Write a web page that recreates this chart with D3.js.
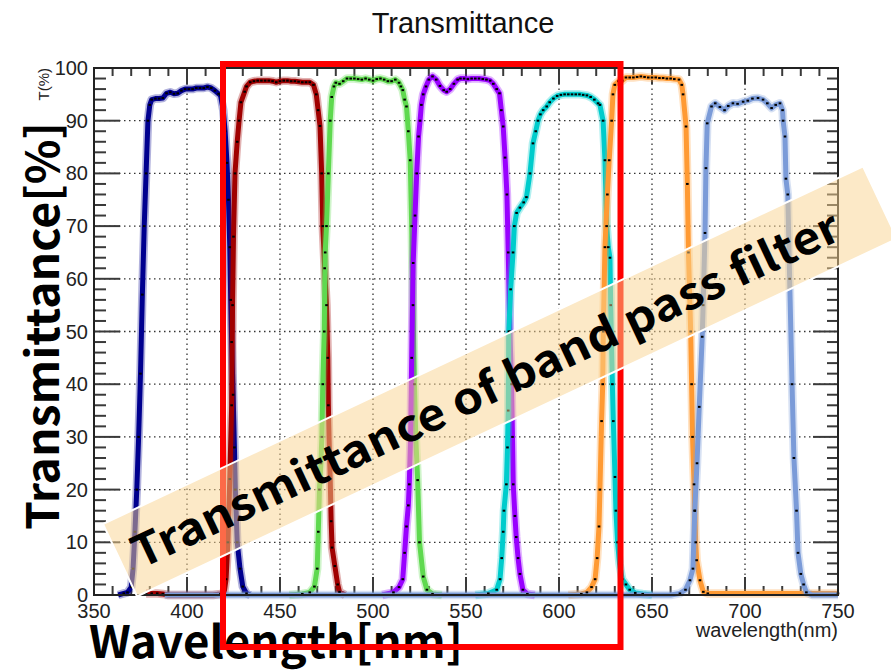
<!DOCTYPE html>
<html>
<head>
<meta charset="utf-8">
<script src="https://cdn.jsdelivr.net/npm/d3@7"></script>
<style>
  body { margin: 0; background: #fff; }
  svg { display: block; }
</style>
</head>
<body>
<script>
// wavelength [nm], transmittance [%]
const filterNavy = [[363,0],[366,0.3],[368,0.5],[370,1.5],[371,5],[372,12],[373,20],[374,30],[375,42],[376,57],[377,70],[378,80],[379,90],[380,93],[381,94],[383,94.2],[385,94.2],[387,94.3],[389,95.2],[391,95.4],[393,95.1],[395,95.2],[397,95.7],[399,96],[401,96],[403,96],[405,96.2],[407,96.2],[409,96.2],[411,96.4],[413,96.2],[415,95.7],[417,95.1],[418,94.8],[419.5,92],[420.5,88],[421.5,82],[422.3,75],[423,66],[423.5,56],[424,48],[424.8,38],[425.5,28],[426,20],[427,10],[428.5,5],[430,1.6],[432,0.3],[434,0]];
const filterDarkRed = [[378,0.3],[381,0.3],[384,0.3],[387,0.2],[390,0],[414,0],[418,0.2],[420,0.5],[421,3],[422,10],[423,22],[424,36],[424.5,55],[425,68],[425.8,80],[427,86],[428,90],[429,93.5],[431,95.5],[432,96.5],[434,97.3],[436,97.5],[438,97.6],[440,97.6],[442,97.6],[444,97.6],[446,97.5],[448,97.3],[450,97.5],[452,97.6],[454,97.6],[456,97.5],[458,97.5],[460,97.4],[462,97.3],[464,97.3],[466,97.3],[468,96.8],[469.5,95],[470.5,92],[471.5,89],[472.4,80],[473,70],[474,62],[475,55],[475.7,45],[476,36],[476.5,28],[477,22],[477.5,14],[478,9],[479.5,5.5],[481,2],[482,0.6],[485,0]];
const filterGreen = [[455,0],[462,0.2],[466,0.5],[468.5,1.6],[470,5],[470.6,12],[471.2,20],[472,25],[472.5,30],[473,40],[473.8,50],[474.3,65],[475,70],[476,80],[477,90],[477.8,94.5],[479,96.5],[480,97.2],[482,97],[484,97.5],[486,98],[488,98],[490,98],[492,97.9],[494,97.8],[496,98],[498,97.8],[500,97.6],[502,97.9],[504,98],[506,97.8],[508,97.5],[510,97.5],[512,97.8],[514,97.2],[515,96.5],[516,95.8],[517,94],[518,92.7],[519,88],[520,82.5],[520.8,70],[521.5,55],[522.3,40],[523,30],[524,21.8],[525,10],[527,3.5],[529,1],[532,0.2],[537,0]];
const filterPurple = [[505,0],[511,0.5],[514,1.5],[516,3],[517,8],[518,13],[519,17],[519.5,21],[520.2,30],[520.8,45],[521.6,63],[522.6,72],[523.5,80],[524.5,87],[525.3,90],[526,93],[527,95],[528.5,96.5],[530,97.8],[532,98.4],[534,97.8],[536,96.6],[538,95.8],[539.6,95.5],[541.5,96],[543.5,97],[545.5,97.8],[547,98],[549,98],[551,97.9],[553,98],[555,98],[557,98],[559,97.9],[561,97.8],[563,97.6],[564.7,97],[566.5,96],[568,95.2],[569,92],[570,88.9],[571,83],[572,76],[572.7,65],[573.6,50],[574.5,40],[575,30],[575.4,21],[576.3,15],[577,11],[578,7],[579,4],[580.6,1],[583,0.2],[587,0]];
const filterCyan = [[555,0],[562,0.3],[566.5,1],[568.3,3],[569.2,7],[570,12],[570.4,16],[571.7,21],[572.3,28],[572.7,35],[573,50],[574,58],[575.3,65],[576,70],[577.2,72.5],[579,73.5],[581,74.5],[582.5,75.5],[584.4,80],[586,85.7],[587.5,88],[588.7,90],[590,91.2],[591.5,92],[593.4,92.7],[595,93.5],[597,94.2],[599,94.7],[601,94.9],[603,95],[605,95],[607,95],[609,95],[611,95],[613,94.9],[615,94.8],[617,94.5],[619,94],[621,93.3],[622,93],[623.7,90],[624.7,82.5],[625.6,70],[626.5,66],[627.4,64],[627.8,55],[628.7,40],[629.2,33],[630.1,22.4],[630.6,16],[631.5,10],[632.5,6],[634,3],[636,2],[638,1],[641,0.4],[645,0.2],[650,0]];
const filterOrange = [[605,0],[612,0.2],[615,0.5],[617.5,1.5],[619.4,3],[620.5,7],[621.5,13],[622,20],[622.9,33],[623.5,40],[623.8,50],[624.7,66],[626,76],[627,82.5],[628.3,90],[629,95],[630,96.8],[632,97.5],[634,97.6],[636,98.2],[638,98.2],[640,98.2],[642,98.3],[644,98.4],[646,98.3],[648,98.2],[650,98.2],[652,98.2],[654,98.1],[656,98.1],[658,98],[660,98],[662,97.9],[664.5,97.8],[666,96.8],[666.7,95],[668.3,88.9],[669,78],[669.6,65],[670.8,50],[671.3,40],[671.8,30],[672.6,21],[673,16],[673.5,10],[674,6.6],[675.8,2.8],[677.6,0.6],[680,0.3],[750,0.3]];
const filterLightBlue = [[388,0],[660,0],[665,0.3],[668,1],[670.4,2.8],[672,5],[673,16],[674.2,25],[675.4,35.7],[677,49],[677.5,55],[678.5,68.7],[679,81],[679.7,89.5],[682,92.7],[684,93.3],[686.5,92.6],[689,92],[691,92.8],[693.5,93.3],[696,93.2],[699,93.6],[701.5,93.8],[704,94.2],[707,94.3],[709.7,94],[712,93.3],[714.3,92.4],[716.5,93],[718.8,93.3],[720.2,92],[720.5,90],[721.5,87],[722,79],[723,76],[724,60],[725.3,40],[726.3,26],[727.7,16],[728.5,8],[730,4],[731.5,2],[733,0.5],[736,0],[750,0]];

const xTicks = [350, 400, 450, 500, 550, 600, 650, 700, 750];
const yTicks = [0, 10, 20, 30, 40, 50, 60, 70, 80, 90, 100];

const series = [
  { data: filterNavy, color: '#00008f' },
  { data: filterDarkRed, color: '#a00000' },
  { data: filterGreen, color: '#5fd94f' },
  { data: filterPurple, color: '#9900ff' },
  { data: filterCyan, color: '#00cccc' },
  { data: filterOrange, color: '#ff9a33' },
  { data: filterLightBlue, color: '#7b9bd8' }
];

const width = 891;
const height = 672;
const svg = d3.select('body').append('svg')
  .attr('width', width)
  .attr('height', height);

const x = d3.scaleLinear().domain([350, 750]).range([94, 838]);
const y = d3.scaleLinear().domain([0, 100]).range([595, 68]);
const font = '"Liberation Sans", Arial, Helvetica, sans-serif';
const jpFont = '"Noto Sans CJK JP", "Noto Sans", sans-serif';

// title
svg.append('text')
  .attr('x', 463).attr('y', 33)
  .attr('text-anchor', 'middle')
  .style('font-family', font).style('font-size', '29px').attr('fill', '#111')
  .text('Transmittance');

// grid
const grid = svg.append('g').attr('stroke', '#333').attr('stroke-width', 1.3).attr('stroke-dasharray', '1.5,3.5');
grid.selectAll('.gx').data(xTicks.slice(1, -1)).enter().append('line')
  .attr('x1', d => x(d)).attr('x2', d => x(d)).attr('y1', y(0)).attr('y2', y(100));
grid.selectAll('.gy').data(yTicks.slice(1, -1)).enter().append('line')
  .attr('y1', d => y(d)).attr('y2', d => y(d)).attr('x1', x(350)).attr('x2', x(750));

// ticks (inside the frame, on all four sides)
const ticks = svg.append('g').attr('stroke', '#3a3a3a').attr('stroke-width', 2);
d3.range(350, 751, 10).forEach(v => {
  const major = v % 50 === 0;
  ticks.append('line').attr('x1', x(v)).attr('x2', x(v)).attr('y1', y(0)).attr('y2', y(0) - (major ? 18 : 9));
  ticks.append('line').attr('x1', x(v)).attr('x2', x(v)).attr('y1', y(100)).attr('y2', y(100) + (major ? 16 : 8));
});
d3.range(0, 101, 2).forEach(v => {
  const major = v % 10 === 0;
  ticks.append('line').attr('y1', y(v)).attr('y2', y(v)).attr('x1', x(350)).attr('x2', x(350) + (major ? 26 : 12));
  ticks.append('line').attr('y1', y(v)).attr('y2', y(v)).attr('x1', x(750)).attr('x2', x(750) - (major ? 25 : 11));
});

// tick labels
svg.selectAll('.xl').data(xTicks).enter().append('text')
  .attr('x', d => x(d)).attr('y', 618)
  .attr('text-anchor', 'middle')
  .style('font-family', font).style('font-size', '20px').attr('fill', '#222')
  .text(d => d);
svg.selectAll('.yl').data(yTicks).enter().append('text')
  .attr('x', 88).attr('y', d => y(d) + 7)
  .attr('text-anchor', 'end')
  .style('font-family', font).style('font-size', '20px').attr('fill', '#222')
  .text(d => d);

// axis titles from the plot itself
svg.append('text')
  .attr('x', 838).attr('y', 637)
  .attr('text-anchor', 'end')
  .style('font-family', font).style('font-size', '20px').attr('fill', '#222')
  .text('wavelength(nm)');
svg.append('text')
  .attr('transform', 'translate(49,68) rotate(-90)')
  .attr('text-anchor', 'end')
  .style('font-family', font).style('font-size', '15px').attr('fill', '#222')
  .text('T(%)');

// curves: thick coloured line, soft halo, black point markers
const line = d3.line().x(d => x(d[0])).y(d => y(d[1]));
const curves = svg.append('g').attr('fill', 'none');
series.forEach(s => {
  curves.append('path').attr('d', line(s.data))
    .attr('stroke', s.color).attr('stroke-width', 8.5).attr('stroke-opacity', 0.3)
    .attr('stroke-linejoin', 'round');
  curves.append('path').attr('d', line(s.data))
    .attr('stroke', s.color).attr('stroke-width', 5)
    .attr('stroke-linejoin', 'round');
});
// zero line of the scans
svg.append('line')
  .attr('x1', x(388)).attr('x2', x(750)).attr('y1', y(0)).attr('y2', y(0))
  .attr('stroke', '#000').attr('stroke-width', 1.3).attr('stroke-dasharray', '4,2.5');
series.forEach(s => {
  svg.append('g').selectAll('rect').data(s.data.filter(d => d[1] > 0.15)).enter().append('rect')
    .attr('x', d => x(d[0]) - 1.3).attr('y', d => y(d[1]) - 1)
    .attr('width', 2.6).attr('height', 2)
    .attr('fill', '#000');
});

// frame
svg.append('rect')
  .attr('x', x(350)).attr('y', y(100))
  .attr('width', x(750) - x(350)).attr('height', y(0) - y(100))
  .attr('fill', 'none').attr('stroke', '#222').attr('stroke-width', 2);

// big overlay labels
svg.append('text')
  .attr('transform', 'translate(59,530) rotate(-90)')
  .attr('textLength', 408).attr('lengthAdjust', 'spacingAndGlyphs')
  .style('font-family', jpFont).style('font-size', '45px').style('font-weight', 700).attr('fill', '#000')
  .text('Transmittance[%]');
svg.append('text')
  .attr('x', 89).attr('y', 658)
  .attr('textLength', 374).attr('lengthAdjust', 'spacingAndGlyphs')
  .style('font-family', jpFont).style('font-size', '45px').style('font-weight', 700).attr('fill', '#000')
  .text('Wavelength[nm]');

// red highlight box
svg.append('rect')
  .attr('x', 223).attr('y', 64).attr('width', 397.5).attr('height', 583)
  .attr('fill', 'none').attr('stroke', '#ff0000').attr('stroke-width', 6);

// tilted banner
const band = svg.append('g').attr('transform', 'translate(103,524) rotate(-25.2)');
band.append('rect')
  .attr('x', 0).attr('y', 0).attr('width', 840).attr('height', 80)
  .attr('fill', '#f9d48f').attr('fill-opacity', 0.5)
  .attr('stroke', '#fff').attr('stroke-width', 2);
band.append('text')
  .attr('x', 15).attr('y', 57)
  .attr('textLength', 777).attr('lengthAdjust', 'spacingAndGlyphs')
  .style('font-family', jpFont).style('font-size', '44px').style('font-weight', 700).attr('fill', '#000')
  .text('Transmittance of band pass filter');
</script>
</body>
</html>
